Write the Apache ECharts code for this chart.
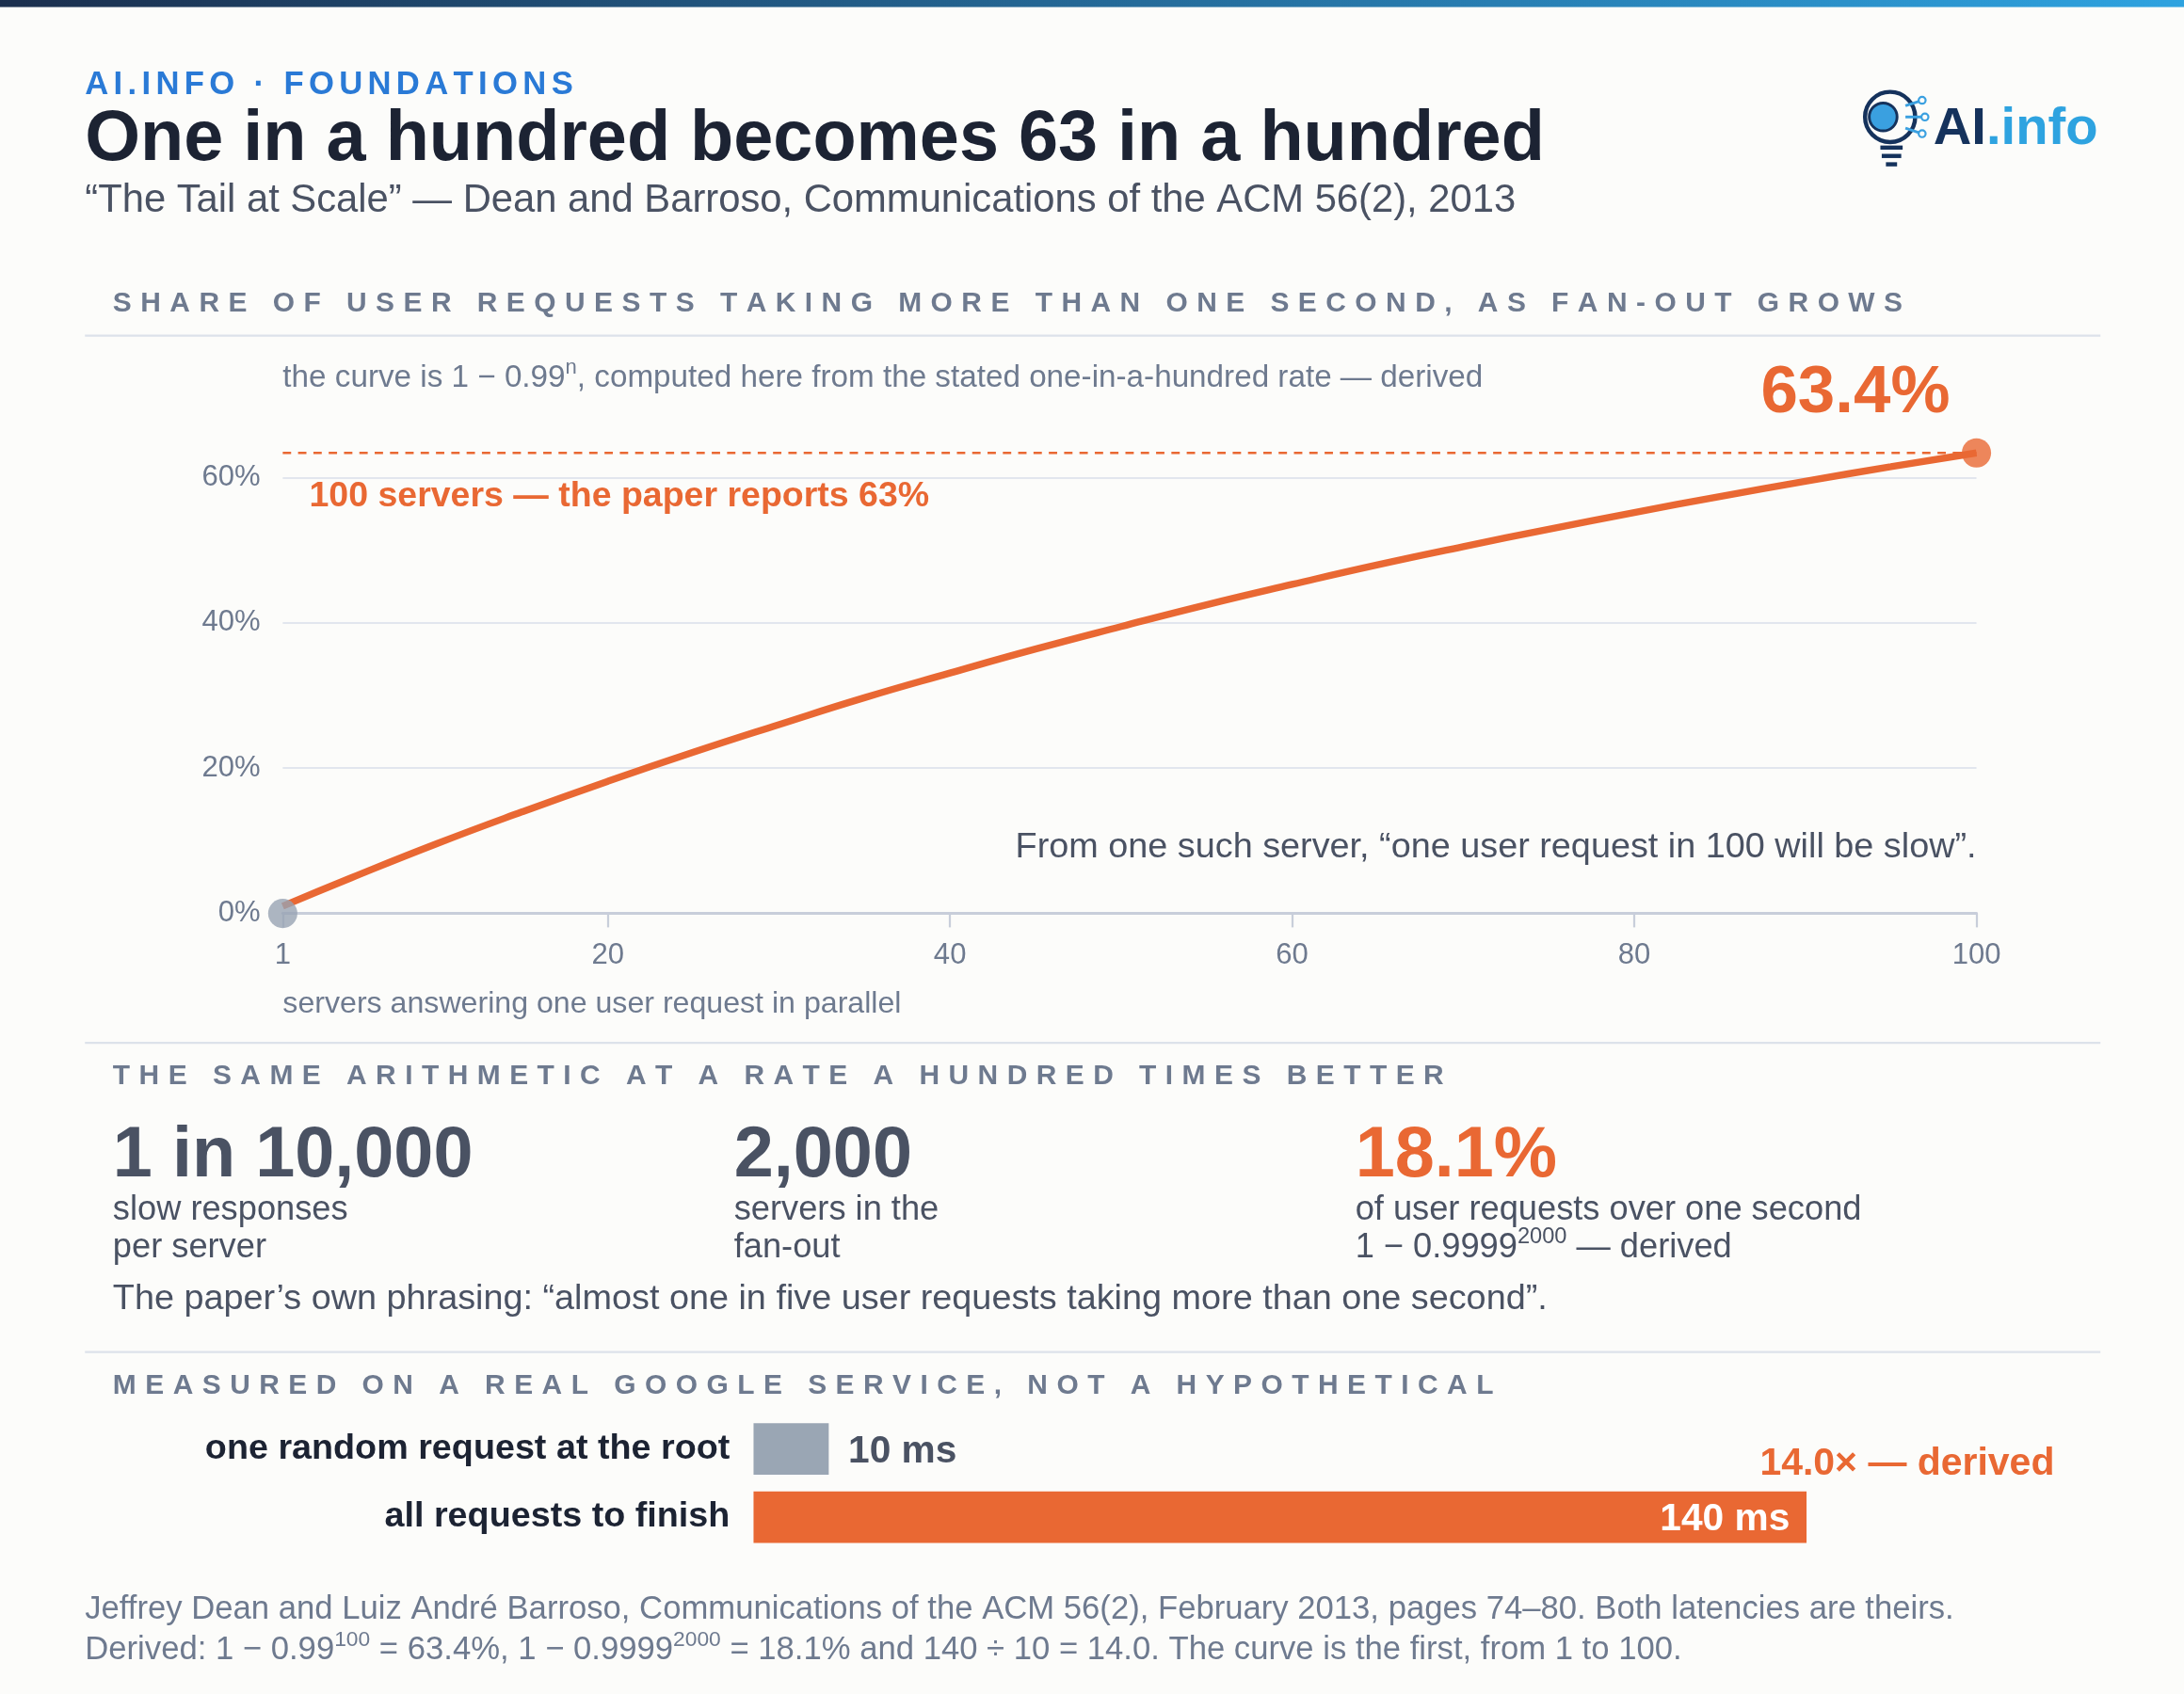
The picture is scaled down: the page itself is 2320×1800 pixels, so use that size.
<!DOCTYPE html>
<html><head><meta charset="utf-8">
<script src="https://cdn.jsdelivr.net/npm/echarts@6/dist/echarts.min.js"></script>
<style>html,body{margin:0;padding:0;background:#fcfcfa}#c{width:2320px;height:1800px}</style>
</head><body><div id="c"></div>
<script>
const curveN = [1,5,10,15,20,25,30,35,40,45,50,55,60,65,70,75,80,85,90,95,100];
const curveV = [1.0,4.9,9.6,14.0,18.2,22.2,26.0,29.7,33.1,36.4,39.5,42.5,45.3,48.0,50.5,52.9,55.2,57.4,59.5,61.5,63.4];
const xTicks = [1,20,40,60,80,100];
const yTicks = [0,20,40,60];
const barCats = ['one random request at the root','all requests to finish'];
const barVals = [10,140];
const barLabels = ['10 ms','140 ms'];
const endValue = 63.4;

const s = 2320/1568;
const K = 1.065;
const F = 'Liberation Sans, Arial, sans-serif';
const ORANGE='#e96833', GRAY='#6e7a8f', DARK='#1c2333', MID='#4a5263';
const g = [];
function T(x,y,text,size,color,weight,align){
  size*=K;
  g.push({type:'text',x:x*s,y:(y+size*0.22)*s,silent:true,style:{text:text,fontSize:size*s,fill:color,fontWeight:weight||'normal',fontFamily:F,align:align||'left',verticalAlign:'bottom'}});
}
const ctx=document.createElement('canvas').getContext('2d');
function TS(x,y,parts,size,supSize,color){
  let cx=x*s;
  for(const [t,sp] of parts){
    const fs=(sp?supSize:size)*K;
    const yy=sp?(y-size*K*0.42):y;
    g.push({type:'text',x:cx,y:(yy+fs*0.22)*s,silent:true,style:{text:t,fontSize:fs*s,fill:color,fontFamily:F,verticalAlign:'bottom'}});
    ctx.font=(fs*s)+'px '+F;
    cx+=ctx.measureText(t).width;
  }
}
function spaced(x,y,text,size,color,spacing){
  size*=K;
  ctx.font='bold '+(size*s)+'px '+F;
  let cx=x*s;
  for(const ch of text){
    if(ch!==' ') g.push({type:'text',x:cx,y:(y+size*0.22)*s,silent:true,style:{text:ch,fontSize:size*s,fill:color,fontWeight:'bold',fontFamily:F,verticalAlign:'bottom'}});
    cx+=ctx.measureText(ch).width+spacing*s;
  }
}
function L(x1,y1,x2,y2,color,w){g.push({type:'line',silent:true,shape:{x1:x1*s,y1:y1*s,x2:x2*s,y2:y2*s},style:{stroke:color,lineWidth:(w||1.5)*s}});}

g.push({type:'rect',silent:true,shape:{x:0,y:0,width:2320,height:5*s},style:{fill:new echarts.graphic.LinearGradient(0,0,1,0,[{offset:0,color:'#1b2f4e'},{offset:1,color:'#2ea3e0'}])}});
spaced(61,68,'AI.INFO · FOUNDATIONS',22,'#2a7ad6',3.6);
T(61,115,'One in a hundred becomes 63 in a hundred',48,DARK,'bold');
T(61,152,'“The Tail at Scale” — Dean and Barroso, Communications of the ACM 56(2), 2013',26.5,MID);
g.push({type:'text',x:1388*s,y:112*s,silent:true,style:{text:'{a|AI}{b|.info}',verticalAlign:'bottom',rich:{a:{fontSize:38*s,fill:'#15325c',fontWeight:'bold',fontFamily:F},b:{fontSize:38*s,fill:'#2ea3e0',fontWeight:'bold',fontFamily:F}}}});
g.push({type:'circle',silent:true,shape:{cx:1357*s,cy:84*s,r:18*s},style:{fill:'none',stroke:'#15325c',lineWidth:3*s}});
g.push({type:'circle',silent:true,shape:{cx:1352*s,cy:84*s,r:10*s},style:{fill:'#3aa0e0',stroke:'#15325c',lineWidth:2*s}});
L(1350,106,1366,106,'#15325c',3);L(1351,112,1365,112,'#15325c',3);L(1354,118,1362,118,'#15325c',3);
[[1368,76,1380,72],[1368,84,1382,84],[1368,92,1380,96]].forEach(a=>{L(a[0],a[1],a[2],a[3],'#3aa0e0',2);g.push({type:'circle',silent:true,shape:{cx:a[2]*s,cy:a[3]*s,r:2.5*s},style:{fill:'#fcfcfa',stroke:'#3aa0e0',lineWidth:1.5*s}});});

spaced(81,224,'SHARE OF USER REQUESTS TAKING MORE THAN ONE SECOND, AS FAN-OUT GROWS',19,GRAY,6.4);
L(61,241,1508,241,'#dde2ea',1.5);
TS(203,278,[['the curve is 1 − 0.99',0],['n',1],[', computed here from the stated one-in-a-hundred rate — derived',0]],21.1,14,GRAY);
T(1400,296,'63.4%',45,ORANGE,'bold','right');
T(222,364,'100 servers — the paper reports 63%',23.8,ORANGE,'bold');
T(1419,616,'From one such server, “one user request in 100 will be slow”.',24,MID,null,'right');
T(203,727,'servers answering one user request in parallel',20.4,GRAY);
L(61,749,1508,749,'#dde2ea',1.5);
spaced(81,779,'THE SAME ARITHMETIC AT A RATE A HUNDRED TIMES BETTER',19,GRAY,6.4);
T(81,845,'1 in 10,000',48,MID,'bold');
T(527,845,'2,000',48,MID,'bold');
T(973,845,'18.1%',48,ORANGE,'bold');
T(81,876,'slow responses',23,MID);T(81,903,'per server',23,MID);
T(527,876,'servers in the',23,MID);T(527,903,'fan-out',23,MID);
T(973,876,'of user requests over one second',23,MID);
TS(973,903,[['1 − 0.9999',0],['2000',1],[' — derived',0]],23,15,MID);
T(81,940,'The paper’s own phrasing: “almost one in five user requests taking more than one second”.',24,MID);
L(61,971,1508,971,'#dde2ea',1.5);
spaced(81,1001,'MEASURED ON A REAL GOOGLE SERVICE, NOT A HYPOTHETICAL',19,GRAY,6.4);
T(1475,1059,'14.0× — derived',26,ORANGE,'bold','right');
T(61,1163,'Jeffrey Dean and Luiz André Barroso, Communications of the ACM 56(2), February 2013, pages 74–80. Both latencies are theirs.',22,GRAY);
TS(61,1192,[['Derived: 1 − 0.99',0],['100',1],[' = 63.4%, 1 − 0.9999',0],['2000',1],[' = 18.1% and 140 ÷ 10 = 14.0. The curve is the first, from 1 to 100.',0]],22,14.5,GRAY);

const chart=echarts.init(document.getElementById('c'));
chart.setOption({
  animation:false,
  backgroundColor:'#fcfcfa',
  grid:[
    {left:203*s,right:(1568-1419)*s,top:343*s,height:(656-343)*s},
    {left:541*s,width:(1297-541)*150/140*s,top:1016*s,height:98*s}
  ],
  xAxis:[
    {gridIndex:0,type:'value',min:1,max:100,splitLine:{show:false},
     axisLine:{lineStyle:{color:'#c8ceda',width:2*s}},
     axisTick:{show:true,customValues:xTicks,length:10*s,lineStyle:{color:'#c8ceda',width:1.5*s}},
     axisLabel:{customValues:xTicks,color:GRAY,fontSize:21*s,fontFamily:F,margin:20*s}},
    {gridIndex:1,type:'value',min:0,max:150,show:false}
  ],
  yAxis:[
    {gridIndex:0,type:'value',min:0,max:60,interval:20,
     axisLine:{show:false},axisTick:{show:false},
     splitLine:{lineStyle:{color:'#e2e6ee',width:1.5*s}},
     axisLabel:{formatter:'{value}%',color:GRAY,fontSize:21*s,fontFamily:F,margin:16*s}},
    {gridIndex:1,type:'category',data:barCats,inverse:true,
     axisLine:{show:false},axisTick:{show:false},
     axisLabel:{color:DARK,fontWeight:'bold',fontSize:25.5*s,fontFamily:F,margin:17*s}}
  ],
  series:[
    {type:'line',xAxisIndex:0,yAxisIndex:0,clip:false,symbol:'none',silent:true,z:2,
     data:[[curveN[0],endValue],[curveN[curveN.length-1],endValue]],
     lineStyle:{color:ORANGE,type:[6*s,5*s],width:1.8*s}},
    {type:'line',xAxisIndex:0,yAxisIndex:0,smooth:true,clip:false,symbol:'none',
     data:curveN.map((n,i)=>[n,curveV[i]]),lineStyle:{color:ORANGE,width:5*s},z:3},
    {type:'scatter',xAxisIndex:0,yAxisIndex:0,clip:false,symbolSize:21*s,z:4,
     data:[{value:[curveN[0],0],itemStyle:{color:'#97a3b3'}},{value:[curveN[curveN.length-1],endValue],itemStyle:{color:ORANGE}}]},
    {type:'bar',xAxisIndex:1,yAxisIndex:1,barWidth:37*s,
     data:barVals.map((v,i)=>({value:v,itemStyle:{color:i?ORANGE:'#9aa6b4'},
       label:{show:true,formatter:barLabels[i],position:i?'insideRight':'right',color:i?'#fff':MID,fontWeight:'bold',fontSize:27.5*s,fontFamily:F,distance:i?12*s:14*s,offset:[0,2*s]}}))}
  ],
  graphic:g
});
</script></body></html>
